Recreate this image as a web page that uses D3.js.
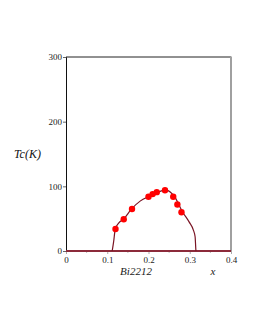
<!DOCTYPE html>
<html><head><meta charset="utf-8">
<script src="https://cdn.jsdelivr.net/npm/d3@7"></script>
<style>html,body{margin:0;padding:0;background:#fff;}svg{display:block;}</style>
</head><body>
<script>
// Data
const dataX = [0.12, 0.14, 0.16, 0.20, 0.21, 0.22, 0.24, 0.26, 0.27, 0.28];
const dataTc = [34, 49, 65, 84, 88, 91, 94, 84, 72, 60];
const curveX = [0.112, 0.1154, 0.1195, 0.1276, 0.14, 0.159, 0.1805, 0.2017, 0.2227, 0.2415, 0.263, 0.283, 0.2984, 0.309, 0.313, 0.3146, 0.315];
const curveTc = [0, 14, 34, 43, 49.5, 65, 77.5, 84.6, 91, 94.5, 84, 60, 45, 32, 22, 4, 0];
const baseX = [0, 0.4];
const baseTc = [0, 0];
const xTicks = [0, 0.1, 0.2, 0.3, 0.4];
const xMinor = [0.05, 0.15, 0.25, 0.35];
const yTicks = [0, 100, 200, 300];
const yLabel = "Tc(K)";
const xLabel1 = "Bi2212";
const xLabel2 = "x";

const W = 255, H = 330;
const svg = d3.select("body").append("svg").attr("width", W).attr("height", H);
const x = d3.scaleLinear().domain([0, 0.4]).range([66, 231]);
const y = d3.scaleLinear().domain([0, 300]).range([251, 57]);
const font = "'Liberation Serif','DejaVu Serif',serif";

// frame: top black, right gray
svg.append("line").attr("x1", x(0)).attr("x2", x(0.4)).attr("y1", y(300)).attr("y2", y(300))
  .attr("stroke", "#222").attr("stroke-width", 1);
svg.append("line").attr("x1", x(0.4)).attr("x2", x(0.4)).attr("y1", y(300) - 0.5).attr("y2", y(0))
  .attr("stroke", "#a0a0a0").attr("stroke-width", 2);

// y axis
const yAxis = d3.axisLeft(y).tickValues(yTicks).tickSize(3).tickPadding(1).tickFormat(d3.format("d"));
const gy = svg.append("g").attr("transform", `translate(${x(0)},0)`).call(yAxis);
gy.select(".domain").attr("stroke", "#111");
gy.selectAll(".tick line").attr("stroke", "#666");
gy.selectAll("text").attr("font-family", font).attr("font-size", 9).attr("fill", "#222");

// x axis
const xAxis = d3.axisBottom(x).tickValues(xTicks).tickSize(3).tickPadding(3)
  .tickFormat(d => d === 0 ? "0" : d3.format(".1f")(d));
const gx = svg.append("g").attr("transform", `translate(0,${y(0)})`).call(xAxis);
gx.select(".domain").attr("stroke", "#111");
gx.selectAll(".tick line").attr("stroke", "#aaa");
gx.selectAll("text").attr("font-family", font).attr("font-size", 9).attr("fill", "#222");
svg.append("g").selectAll("line").data(xMinor).join("line")
  .attr("x1", d => x(d)).attr("x2", d => x(d)).attr("y1", y(0)).attr("y2", y(0) + 2)
  .attr("stroke", "#bbb").attr("stroke-width", 1);

// baseline Tc = 0
const line = d3.line().x(d => x(d[0])).y(d => y(d[1]));
svg.append("path").datum(baseX.map((v, i) => [v, baseTc[i]])).attr("d", line)
  .attr("fill", "none").attr("stroke", "#8c2a3a").attr("stroke-width", 2.2);

// dome curve
svg.append("path").datum(curveX.map((v, i) => [v, curveTc[i]]))
  .attr("d", d3.line().x(d => x(d[0])).y(d => y(d[1])).curve(d3.curveMonotoneX)(curveX.map((v, i) => [v, curveTc[i]])))
  .attr("fill", "none").attr("stroke", "#7a1424").attr("stroke-width", 1.2);

// data points
svg.append("g").selectAll("circle").data(dataX.map((v, i) => [v, dataTc[i]])).join("circle")
  .attr("cx", d => x(d[0])).attr("cy", d => y(d[1])).attr("r", 3.2).attr("fill", "#ff0000");

// labels
svg.append("text").attr("x", 14).attr("y", 158).attr("font-family", font).attr("font-style", "italic")
  .attr("font-size", 12).attr("fill", "#111").text(yLabel);
svg.append("text").attr("x", 136).attr("y", 275).attr("text-anchor", "middle").attr("font-family", font)
  .attr("font-style", "italic").attr("font-size", 11).attr("fill", "#222").text(xLabel1);
svg.append("text").attr("x", 213).attr("y", 275).attr("text-anchor", "middle").attr("font-family", font)
  .attr("font-style", "italic").attr("font-size", 11).attr("fill", "#222").text(xLabel2);
</script>
</body></html>
